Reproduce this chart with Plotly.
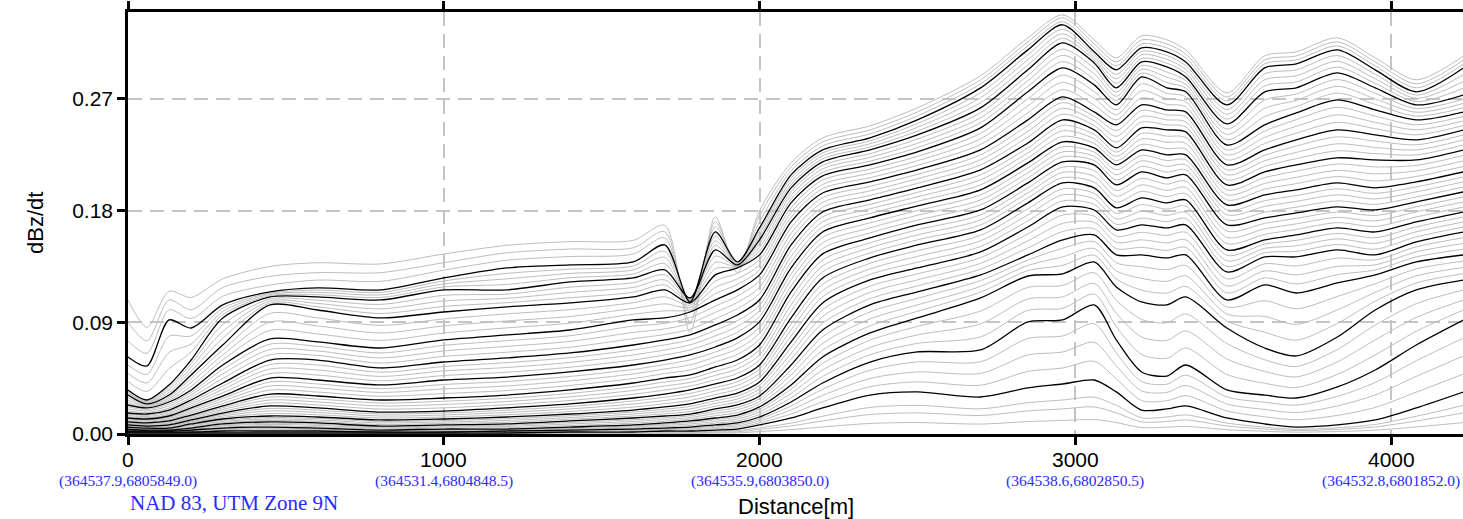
import plotly.graph_objects as go

# Station distances along the line (m)
distance = [0, 60, 130, 200, 300, 450, 600, 800, 1000, 1200, 1400, 1600, 1700, 1780,
            1860, 1930, 2000, 2100, 2200, 2350, 2500, 2700, 2850, 2960, 3060, 3130,
            3210, 3290, 3350, 3480, 3600, 3700, 3830, 3950, 4080, 4230]

# dBz/dt decay at each station, 55 channels from early to late time
decay_0000 = [0.1080, 0.0900, 0.0750, 0.0621, 0.0555, 0.0488, 0.0422, 0.0355, 0.0345, 0.0335, 0.0324, 0.0314, 0.0294, 0.0274, 0.0254, 0.0234, 0.0218, 0.0202, 0.0185, 0.0169, 0.0159, 0.0149, 0.0139, 0.0129, 0.0121, 0.0113, 0.0105, 0.0097, 0.0091, 0.0085, 0.0079, 0.0073, 0.0069, 0.0065, 0.0060, 0.0056, 0.0052, 0.0048, 0.0044, 0.0040, 0.0036, 0.0032, 0.0028, 0.0024, 0.0022, 0.0020, 0.0018, 0.0016, 0.0014, 0.0012, 0.0010, 0.0008, 0.0006, 0.0004, 0.0002]
decay_0060 = [0.0860, 0.0750, 0.0650, 0.0548, 0.0480, 0.0411, 0.0343, 0.0274, 0.0266, 0.0258, 0.0250, 0.0242, 0.0234, 0.0226, 0.0218, 0.0210, 0.0198, 0.0186, 0.0173, 0.0161, 0.0151, 0.0141, 0.0131, 0.0121, 0.0113, 0.0105, 0.0097, 0.0089, 0.0083, 0.0077, 0.0070, 0.0064, 0.0060, 0.0056, 0.0052, 0.0048, 0.0044, 0.0040, 0.0036, 0.0032, 0.0030, 0.0028, 0.0026, 0.0024, 0.0022, 0.0020, 0.0018, 0.0016, 0.0014, 0.0012, 0.0010, 0.0008, 0.0006, 0.0004, 0.0002]
decay_0130 = [0.1150, 0.1080, 0.1000, 0.0919, 0.0788, 0.0657, 0.0526, 0.0395, 0.0375, 0.0355, 0.0334, 0.0314, 0.0300, 0.0286, 0.0272, 0.0258, 0.0242, 0.0226, 0.0209, 0.0193, 0.0181, 0.0169, 0.0157, 0.0145, 0.0135, 0.0125, 0.0115, 0.0105, 0.0097, 0.0089, 0.0081, 0.0073, 0.0067, 0.0061, 0.0054, 0.0048, 0.0044, 0.0040, 0.0036, 0.0032, 0.0030, 0.0028, 0.0026, 0.0024, 0.0022, 0.0020, 0.0018, 0.0016, 0.0014, 0.0012, 0.0010, 0.0008, 0.0006, 0.0004, 0.0002]
decay_0200 = [0.1100, 0.1000, 0.0930, 0.0854, 0.0790, 0.0725, 0.0661, 0.0596, 0.0566, 0.0536, 0.0506, 0.0476, 0.0446, 0.0416, 0.0385, 0.0355, 0.0335, 0.0315, 0.0294, 0.0274, 0.0258, 0.0242, 0.0226, 0.0210, 0.0196, 0.0182, 0.0167, 0.0153, 0.0143, 0.0133, 0.0123, 0.0113, 0.0105, 0.0097, 0.0089, 0.0081, 0.0073, 0.0065, 0.0056, 0.0048, 0.0044, 0.0040, 0.0036, 0.0032, 0.0028, 0.0024, 0.0020, 0.0016, 0.0014, 0.0012, 0.0010, 0.0008, 0.0006, 0.0004, 0.0002]
decay_0300 = [0.1250, 0.1180, 0.1110, 0.1040, 0.1014, 0.0988, 0.0961, 0.0935, 0.0881, 0.0826, 0.0772, 0.0717, 0.0677, 0.0637, 0.0596, 0.0556, 0.0520, 0.0484, 0.0447, 0.0411, 0.0385, 0.0359, 0.0332, 0.0306, 0.0286, 0.0266, 0.0246, 0.0226, 0.0212, 0.0198, 0.0183, 0.0169, 0.0157, 0.0145, 0.0133, 0.0121, 0.0111, 0.0101, 0.0091, 0.0081, 0.0073, 0.0065, 0.0056, 0.0048, 0.0042, 0.0036, 0.0030, 0.0024, 0.0020, 0.0016, 0.0012, 0.0008, 0.0006, 0.0004, 0.0002]
decay_0450 = [0.1350, 0.1270, 0.1200, 0.1145, 0.1135, 0.1125, 0.1114, 0.1104, 0.1088, 0.1072, 0.1056, 0.1040, 0.0972, 0.0903, 0.0835, 0.0766, 0.0724, 0.0681, 0.0639, 0.0596, 0.0560, 0.0524, 0.0487, 0.0451, 0.0419, 0.0387, 0.0354, 0.0322, 0.0298, 0.0274, 0.0250, 0.0226, 0.0206, 0.0186, 0.0165, 0.0145, 0.0133, 0.0121, 0.0109, 0.0097, 0.0087, 0.0077, 0.0066, 0.0056, 0.0048, 0.0040, 0.0032, 0.0024, 0.0020, 0.0016, 0.0012, 0.0008, 0.0006, 0.0004, 0.0002]
decay_0600 = [0.1380, 0.1300, 0.1240, 0.1177, 0.1159, 0.1141, 0.1122, 0.1104, 0.1078, 0.1052, 0.1025, 0.0999, 0.0935, 0.0871, 0.0806, 0.0742, 0.0706, 0.0669, 0.0633, 0.0596, 0.0556, 0.0516, 0.0475, 0.0435, 0.0403, 0.0371, 0.0338, 0.0306, 0.0282, 0.0258, 0.0234, 0.0210, 0.0192, 0.0174, 0.0155, 0.0137, 0.0125, 0.0113, 0.0101, 0.0089, 0.0079, 0.0069, 0.0058, 0.0048, 0.0042, 0.0036, 0.0030, 0.0024, 0.0020, 0.0016, 0.0012, 0.0008, 0.0006, 0.0004, 0.0002]
decay_0800 = [0.1370, 0.1300, 0.1230, 0.1161, 0.1141, 0.1121, 0.1100, 0.1080, 0.1044, 0.1008, 0.0971, 0.0935, 0.0875, 0.0814, 0.0754, 0.0693, 0.0653, 0.0613, 0.0572, 0.0532, 0.0498, 0.0464, 0.0429, 0.0395, 0.0365, 0.0335, 0.0304, 0.0274, 0.0250, 0.0226, 0.0201, 0.0177, 0.0161, 0.0145, 0.0129, 0.0113, 0.0101, 0.0089, 0.0076, 0.0064, 0.0056, 0.0048, 0.0040, 0.0032, 0.0028, 0.0024, 0.0020, 0.0016, 0.0014, 0.0012, 0.0010, 0.0008, 0.0006, 0.0004, 0.0002]
decay_1000 = [0.1450, 0.1380, 0.1320, 0.1257, 0.1233, 0.1209, 0.1185, 0.1161, 0.1117, 0.1072, 0.1028, 0.0983, 0.0927, 0.0871, 0.0814, 0.0758, 0.0714, 0.0669, 0.0625, 0.0580, 0.0544, 0.0508, 0.0471, 0.0435, 0.0399, 0.0363, 0.0326, 0.0290, 0.0264, 0.0238, 0.0211, 0.0185, 0.0169, 0.0153, 0.0137, 0.0121, 0.0109, 0.0097, 0.0085, 0.0073, 0.0065, 0.0057, 0.0048, 0.0040, 0.0034, 0.0028, 0.0022, 0.0016, 0.0014, 0.0012, 0.0010, 0.0008, 0.0006, 0.0004, 0.0002]
decay_1200 = [0.1520, 0.1460, 0.1400, 0.1338, 0.1294, 0.1250, 0.1205, 0.1161, 0.1127, 0.1093, 0.1058, 0.1024, 0.0968, 0.0911, 0.0855, 0.0798, 0.0752, 0.0706, 0.0659, 0.0613, 0.0575, 0.0536, 0.0498, 0.0459, 0.0423, 0.0387, 0.0350, 0.0314, 0.0288, 0.0262, 0.0236, 0.0210, 0.0192, 0.0174, 0.0155, 0.0137, 0.0123, 0.0109, 0.0095, 0.0081, 0.0071, 0.0061, 0.0050, 0.0040, 0.0036, 0.0032, 0.0028, 0.0024, 0.0020, 0.0016, 0.0012, 0.0008, 0.0006, 0.0004, 0.0002]
decay_1400 = [0.1550, 0.1490, 0.1430, 0.1362, 0.1328, 0.1294, 0.1259, 0.1225, 0.1183, 0.1141, 0.1098, 0.1056, 0.1002, 0.0947, 0.0893, 0.0838, 0.0792, 0.0746, 0.0699, 0.0653, 0.0615, 0.0577, 0.0538, 0.0500, 0.0464, 0.0428, 0.0391, 0.0355, 0.0327, 0.0299, 0.0270, 0.0242, 0.0222, 0.0202, 0.0181, 0.0161, 0.0147, 0.0133, 0.0119, 0.0105, 0.0093, 0.0081, 0.0068, 0.0056, 0.0050, 0.0044, 0.0038, 0.0032, 0.0028, 0.0024, 0.0020, 0.0016, 0.0011, 0.0007, 0.0003]
decay_1600 = [0.1560, 0.1500, 0.1450, 0.1386, 0.1354, 0.1322, 0.1289, 0.1257, 0.1219, 0.1181, 0.1142, 0.1104, 0.1058, 0.1012, 0.0965, 0.0919, 0.0869, 0.0818, 0.0768, 0.0717, 0.0677, 0.0637, 0.0596, 0.0556, 0.0520, 0.0484, 0.0447, 0.0411, 0.0381, 0.0351, 0.0320, 0.0290, 0.0266, 0.0242, 0.0217, 0.0193, 0.0177, 0.0161, 0.0145, 0.0129, 0.0115, 0.0101, 0.0087, 0.0073, 0.0065, 0.0057, 0.0048, 0.0040, 0.0034, 0.0028, 0.0022, 0.0016, 0.0011, 0.0007, 0.0003]
decay_1700 = [0.1680, 0.1630, 0.1580, 0.1523, 0.1473, 0.1423, 0.1372, 0.1322, 0.1282, 0.1242, 0.1201, 0.1161, 0.1105, 0.1048, 0.0992, 0.0935, 0.0891, 0.0847, 0.0802, 0.0758, 0.0718, 0.0677, 0.0637, 0.0596, 0.0560, 0.0524, 0.0487, 0.0451, 0.0419, 0.0387, 0.0354, 0.0322, 0.0296, 0.0270, 0.0244, 0.0218, 0.0200, 0.0182, 0.0163, 0.0145, 0.0131, 0.0117, 0.0103, 0.0089, 0.0079, 0.0069, 0.0058, 0.0048, 0.0042, 0.0036, 0.0030, 0.0024, 0.0016, 0.0010, 0.0005]
decay_1780 = [0.0820, 0.0900, 0.0980, 0.1064, 0.1072, 0.1080, 0.1088, 0.1096, 0.1086, 0.1076, 0.1066, 0.1056, 0.1038, 0.1020, 0.1001, 0.0983, 0.0937, 0.0891, 0.0844, 0.0798, 0.0758, 0.0718, 0.0677, 0.0637, 0.0597, 0.0557, 0.0516, 0.0476, 0.0446, 0.0416, 0.0385, 0.0355, 0.0327, 0.0299, 0.0270, 0.0242, 0.0222, 0.0202, 0.0181, 0.0161, 0.0147, 0.0133, 0.0119, 0.0105, 0.0093, 0.0081, 0.0068, 0.0056, 0.0048, 0.0040, 0.0032, 0.0024, 0.0016, 0.0010, 0.0005]
decay_1860 = [0.1750, 0.1710, 0.1670, 0.1628, 0.1592, 0.1556, 0.1519, 0.1483, 0.1433, 0.1383, 0.1332, 0.1282, 0.1232, 0.1181, 0.1131, 0.1080, 0.1030, 0.0980, 0.0929, 0.0879, 0.0835, 0.0790, 0.0746, 0.0701, 0.0661, 0.0621, 0.0580, 0.0540, 0.0506, 0.0472, 0.0437, 0.0403, 0.0375, 0.0347, 0.0318, 0.0290, 0.0268, 0.0246, 0.0224, 0.0202, 0.0184, 0.0166, 0.0147, 0.0129, 0.0115, 0.0101, 0.0087, 0.0073, 0.0063, 0.0053, 0.0042, 0.0032, 0.0022, 0.0014, 0.0007]
decay_1930 = [0.1300, 0.1340, 0.1370, 0.1386, 0.1380, 0.1374, 0.1368, 0.1362, 0.1356, 0.1350, 0.1344, 0.1338, 0.1294, 0.1250, 0.1205, 0.1161, 0.1111, 0.1060, 0.1010, 0.0959, 0.0913, 0.0867, 0.0820, 0.0774, 0.0730, 0.0685, 0.0641, 0.0596, 0.0560, 0.0524, 0.0487, 0.0451, 0.0421, 0.0391, 0.0360, 0.0330, 0.0306, 0.0282, 0.0258, 0.0234, 0.0214, 0.0194, 0.0173, 0.0153, 0.0137, 0.0121, 0.0105, 0.0089, 0.0077, 0.0065, 0.0052, 0.0040, 0.0027, 0.0018, 0.0009]
decay_2000 = [0.1800, 0.1760, 0.1710, 0.1660, 0.1636, 0.1612, 0.1588, 0.1564, 0.1534, 0.1504, 0.1473, 0.1443, 0.1403, 0.1363, 0.1322, 0.1282, 0.1232, 0.1181, 0.1131, 0.1080, 0.1036, 0.0992, 0.0947, 0.0903, 0.0857, 0.0810, 0.0764, 0.0717, 0.0677, 0.0637, 0.0596, 0.0556, 0.0522, 0.0488, 0.0453, 0.0419, 0.0391, 0.0363, 0.0334, 0.0306, 0.0284, 0.0262, 0.0240, 0.0218, 0.0198, 0.0178, 0.0157, 0.0137, 0.0121, 0.0105, 0.0089, 0.0073, 0.0050, 0.0037, 0.0020]
decay_2100 = [0.2185, 0.2152, 0.2120, 0.2088, 0.2062, 0.2036, 0.2009, 0.1983, 0.1953, 0.1923, 0.1892, 0.1862, 0.1824, 0.1786, 0.1747, 0.1709, 0.1663, 0.1616, 0.1570, 0.1523, 0.1477, 0.1431, 0.1384, 0.1338, 0.1290, 0.1242, 0.1193, 0.1145, 0.1093, 0.1040, 0.0988, 0.0935, 0.0887, 0.0839, 0.0790, 0.0742, 0.0696, 0.0649, 0.0603, 0.0556, 0.0516, 0.0476, 0.0435, 0.0395, 0.0361, 0.0327, 0.0292, 0.0258, 0.0226, 0.0194, 0.0161, 0.0129, 0.0088, 0.0065, 0.0035]
decay_2200 = [0.2386, 0.2353, 0.2321, 0.2289, 0.2265, 0.2241, 0.2216, 0.2192, 0.2164, 0.2136, 0.2108, 0.2080, 0.2046, 0.2011, 0.1977, 0.1942, 0.1904, 0.1866, 0.1827, 0.1789, 0.1749, 0.1709, 0.1668, 0.1628, 0.1584, 0.1540, 0.1495, 0.1451, 0.1403, 0.1354, 0.1306, 0.1257, 0.1207, 0.1157, 0.1106, 0.1056, 0.1002, 0.0947, 0.0893, 0.0838, 0.0784, 0.0730, 0.0675, 0.0621, 0.0569, 0.0516, 0.0464, 0.0411, 0.0361, 0.0311, 0.0260, 0.0210, 0.0143, 0.0105, 0.0057]
decay_2350 = [0.2483, 0.2450, 0.2418, 0.2386, 0.2362, 0.2338, 0.2313, 0.2289, 0.2259, 0.2229, 0.2198, 0.2168, 0.2134, 0.2100, 0.2065, 0.2031, 0.1995, 0.1959, 0.1922, 0.1886, 0.1850, 0.1814, 0.1777, 0.1741, 0.1701, 0.1661, 0.1620, 0.1580, 0.1540, 0.1500, 0.1459, 0.1419, 0.1375, 0.1330, 0.1286, 0.1241, 0.1191, 0.1141, 0.1090, 0.1040, 0.0984, 0.0927, 0.0871, 0.0814, 0.0756, 0.0697, 0.0639, 0.0580, 0.0514, 0.0447, 0.0381, 0.0314, 0.0214, 0.0157, 0.0085]
decay_2500 = [0.2628, 0.2595, 0.2563, 0.2531, 0.2501, 0.2471, 0.2440, 0.2410, 0.2376, 0.2342, 0.2307, 0.2273, 0.2237, 0.2201, 0.2164, 0.2128, 0.2092, 0.2056, 0.2019, 0.1983, 0.1947, 0.1911, 0.1874, 0.1838, 0.1800, 0.1762, 0.1723, 0.1685, 0.1645, 0.1604, 0.1564, 0.1523, 0.1477, 0.1431, 0.1384, 0.1338, 0.1290, 0.1242, 0.1193, 0.1145, 0.1093, 0.1040, 0.0988, 0.0935, 0.0867, 0.0798, 0.0730, 0.0661, 0.0581, 0.0500, 0.0420, 0.0339, 0.0231, 0.0170, 0.0092]
decay_2700 = [0.2886, 0.2853, 0.2821, 0.2789, 0.2749, 0.2709, 0.2668, 0.2628, 0.2588, 0.2547, 0.2507, 0.2466, 0.2422, 0.2378, 0.2333, 0.2289, 0.2249, 0.2209, 0.2168, 0.2128, 0.2088, 0.2048, 0.2007, 0.1967, 0.1927, 0.1886, 0.1846, 0.1805, 0.1765, 0.1725, 0.1684, 0.1644, 0.1600, 0.1556, 0.1511, 0.1467, 0.1421, 0.1375, 0.1328, 0.1282, 0.1236, 0.1189, 0.1143, 0.1096, 0.0991, 0.0887, 0.0782, 0.0677, 0.0582, 0.0488, 0.0393, 0.0298, 0.0203, 0.0149, 0.0080]
decay_2850 = [0.3192, 0.3159, 0.3127, 0.3095, 0.3055, 0.3015, 0.2974, 0.2934, 0.2890, 0.2846, 0.2801, 0.2757, 0.2701, 0.2644, 0.2588, 0.2531, 0.2485, 0.2438, 0.2392, 0.2345, 0.2305, 0.2265, 0.2224, 0.2184, 0.2144, 0.2104, 0.2063, 0.2023, 0.1983, 0.1943, 0.1902, 0.1862, 0.1814, 0.1765, 0.1717, 0.1668, 0.1612, 0.1556, 0.1499, 0.1443, 0.1401, 0.1358, 0.1316, 0.1273, 0.1181, 0.1088, 0.0996, 0.0903, 0.0770, 0.0637, 0.0504, 0.0371, 0.0252, 0.0186, 0.0100]
decay_2960 = [0.3377, 0.3353, 0.3321, 0.3297, 0.3261, 0.3224, 0.3188, 0.3151, 0.3101, 0.3051, 0.3000, 0.2950, 0.2892, 0.2833, 0.2775, 0.2716, 0.2670, 0.2624, 0.2577, 0.2531, 0.2487, 0.2443, 0.2398, 0.2354, 0.2314, 0.2273, 0.2233, 0.2192, 0.2150, 0.2108, 0.2065, 0.2023, 0.1975, 0.1927, 0.1878, 0.1830, 0.1764, 0.1697, 0.1631, 0.1564, 0.1496, 0.1427, 0.1359, 0.1290, 0.1197, 0.1105, 0.1012, 0.0919, 0.0790, 0.0661, 0.0532, 0.0403, 0.0274, 0.0202, 0.0109]
decay_3060 = [0.3176, 0.3143, 0.3111, 0.3079, 0.3057, 0.3035, 0.3012, 0.2990, 0.2946, 0.2902, 0.2857, 0.2813, 0.2759, 0.2704, 0.2650, 0.2595, 0.2559, 0.2523, 0.2486, 0.2450, 0.2414, 0.2378, 0.2341, 0.2305, 0.2271, 0.2237, 0.2202, 0.2168, 0.2122, 0.2076, 0.2029, 0.1983, 0.1939, 0.1894, 0.1850, 0.1805, 0.1755, 0.1705, 0.1654, 0.1604, 0.1550, 0.1495, 0.1441, 0.1386, 0.1300, 0.1213, 0.1127, 0.1040, 0.0889, 0.0738, 0.0586, 0.0435, 0.0296, 0.0218, 0.0117]
decay_3130 = [0.3031, 0.2998, 0.2966, 0.2934, 0.2898, 0.2862, 0.2825, 0.2789, 0.2755, 0.2721, 0.2686, 0.2652, 0.2612, 0.2572, 0.2531, 0.2491, 0.2445, 0.2398, 0.2352, 0.2305, 0.2271, 0.2237, 0.2202, 0.2168, 0.2128, 0.2088, 0.2047, 0.2007, 0.1961, 0.1915, 0.1868, 0.1822, 0.1778, 0.1733, 0.1689, 0.1644, 0.1594, 0.1544, 0.1493, 0.1443, 0.1379, 0.1314, 0.1250, 0.1185, 0.1078, 0.0972, 0.0865, 0.0758, 0.0653, 0.0549, 0.0444, 0.0339, 0.0231, 0.0170, 0.0092]
decay_3210 = [0.3208, 0.3175, 0.3143, 0.3111, 0.3083, 0.3055, 0.3026, 0.2998, 0.2968, 0.2938, 0.2907, 0.2877, 0.2821, 0.2765, 0.2708, 0.2652, 0.2606, 0.2559, 0.2513, 0.2466, 0.2422, 0.2378, 0.2333, 0.2289, 0.2245, 0.2201, 0.2156, 0.2112, 0.2060, 0.2007, 0.1955, 0.1902, 0.1848, 0.1794, 0.1739, 0.1685, 0.1625, 0.1564, 0.1504, 0.1443, 0.1348, 0.1254, 0.1159, 0.1064, 0.0923, 0.0782, 0.0641, 0.0500, 0.0423, 0.0347, 0.0270, 0.0193, 0.0131, 0.0097, 0.0052]
decay_3290 = [0.3176, 0.3143, 0.3111, 0.3079, 0.3049, 0.3019, 0.2988, 0.2958, 0.2916, 0.2874, 0.2831, 0.2789, 0.2745, 0.2700, 0.2656, 0.2611, 0.2571, 0.2531, 0.2490, 0.2450, 0.2400, 0.2350, 0.2299, 0.2249, 0.2203, 0.2156, 0.2110, 0.2063, 0.2013, 0.1963, 0.1912, 0.1862, 0.1812, 0.1761, 0.1711, 0.1660, 0.1600, 0.1540, 0.1479, 0.1419, 0.1324, 0.1230, 0.1135, 0.1040, 0.0897, 0.0754, 0.0610, 0.0467, 0.0401, 0.0335, 0.0268, 0.0202, 0.0137, 0.0101, 0.0055]
decay_3350 = [0.3095, 0.3062, 0.3030, 0.2998, 0.2968, 0.2938, 0.2907, 0.2877, 0.2847, 0.2817, 0.2787, 0.2757, 0.2717, 0.2676, 0.2636, 0.2595, 0.2555, 0.2515, 0.2474, 0.2434, 0.2388, 0.2342, 0.2295, 0.2249, 0.2209, 0.2169, 0.2128, 0.2088, 0.2038, 0.1987, 0.1937, 0.1886, 0.1836, 0.1786, 0.1735, 0.1685, 0.1625, 0.1564, 0.1504, 0.1443, 0.1358, 0.1274, 0.1189, 0.1104, 0.0967, 0.0830, 0.0693, 0.0556, 0.0474, 0.0391, 0.0309, 0.0226, 0.0154, 0.0113, 0.0061]
decay_3480 = [0.2749, 0.2716, 0.2684, 0.2652, 0.2614, 0.2576, 0.2537, 0.2499, 0.2457, 0.2414, 0.2372, 0.2329, 0.2289, 0.2249, 0.2208, 0.2168, 0.2128, 0.2088, 0.2047, 0.2007, 0.1967, 0.1927, 0.1886, 0.1846, 0.1806, 0.1766, 0.1725, 0.1685, 0.1635, 0.1584, 0.1534, 0.1483, 0.1439, 0.1395, 0.1350, 0.1306, 0.1250, 0.1193, 0.1137, 0.1080, 0.1024, 0.0967, 0.0911, 0.0854, 0.0729, 0.0605, 0.0480, 0.0355, 0.0299, 0.0242, 0.0186, 0.0129, 0.0088, 0.0065, 0.0035]
decay_3600 = [0.3047, 0.3014, 0.2982, 0.2950, 0.2902, 0.2854, 0.2805, 0.2757, 0.2691, 0.2624, 0.2558, 0.2491, 0.2441, 0.2390, 0.2340, 0.2289, 0.2245, 0.2201, 0.2156, 0.2112, 0.2066, 0.2019, 0.1973, 0.1926, 0.1880, 0.1834, 0.1787, 0.1741, 0.1697, 0.1653, 0.1608, 0.1564, 0.1530, 0.1496, 0.1461, 0.1427, 0.1371, 0.1314, 0.1258, 0.1201, 0.1074, 0.0947, 0.0820, 0.0693, 0.0598, 0.0504, 0.0409, 0.0314, 0.0256, 0.0198, 0.0139, 0.0081, 0.0055, 0.0040, 0.0022]
decay_3700 = [0.3079, 0.3046, 0.3014, 0.2982, 0.2934, 0.2886, 0.2837, 0.2789, 0.2739, 0.2688, 0.2638, 0.2587, 0.2533, 0.2479, 0.2424, 0.2370, 0.2320, 0.2269, 0.2219, 0.2168, 0.2118, 0.2068, 0.2017, 0.1967, 0.1921, 0.1874, 0.1828, 0.1781, 0.1737, 0.1693, 0.1648, 0.1604, 0.1560, 0.1516, 0.1471, 0.1427, 0.1354, 0.1282, 0.1209, 0.1136, 0.1009, 0.0883, 0.0756, 0.0629, 0.0544, 0.0460, 0.0375, 0.0290, 0.0232, 0.0173, 0.0115, 0.0056, 0.0038, 0.0028, 0.0015]
decay_3830 = [0.3192, 0.3159, 0.3127, 0.3095, 0.3049, 0.3003, 0.2956, 0.2910, 0.2856, 0.2801, 0.2747, 0.2692, 0.2632, 0.2571, 0.2511, 0.2450, 0.2394, 0.2338, 0.2281, 0.2225, 0.2175, 0.2124, 0.2074, 0.2023, 0.1975, 0.1927, 0.1878, 0.1830, 0.1788, 0.1745, 0.1703, 0.1660, 0.1616, 0.1572, 0.1527, 0.1483, 0.1417, 0.1350, 0.1284, 0.1217, 0.1108, 0.1000, 0.0891, 0.0782, 0.0681, 0.0581, 0.0480, 0.0379, 0.0303, 0.0226, 0.0150, 0.0073, 0.0050, 0.0037, 0.0020]
decay_3950 = [0.3031, 0.2998, 0.2966, 0.2934, 0.2898, 0.2862, 0.2825, 0.2789, 0.2745, 0.2700, 0.2656, 0.2611, 0.2561, 0.2511, 0.2460, 0.2410, 0.2360, 0.2309, 0.2259, 0.2208, 0.2152, 0.2096, 0.2039, 0.1983, 0.1939, 0.1894, 0.1850, 0.1805, 0.1761, 0.1717, 0.1672, 0.1628, 0.1582, 0.1536, 0.1489, 0.1443, 0.1403, 0.1363, 0.1322, 0.1282, 0.1211, 0.1141, 0.1070, 0.0999, 0.0878, 0.0758, 0.0637, 0.0516, 0.0415, 0.0315, 0.0214, 0.0113, 0.0077, 0.0057, 0.0031]
decay_4080 = [0.2854, 0.2821, 0.2789, 0.2757, 0.2731, 0.2705, 0.2678, 0.2652, 0.2622, 0.2592, 0.2561, 0.2531, 0.2491, 0.2451, 0.2410, 0.2370, 0.2330, 0.2289, 0.2249, 0.2208, 0.2164, 0.2120, 0.2075, 0.2031, 0.1991, 0.1951, 0.1910, 0.1870, 0.1830, 0.1790, 0.1749, 0.1709, 0.1669, 0.1629, 0.1588, 0.1548, 0.1508, 0.1467, 0.1427, 0.1386, 0.1330, 0.1274, 0.1217, 0.1161, 0.1050, 0.0939, 0.0828, 0.0717, 0.0590, 0.0464, 0.0337, 0.0210, 0.0143, 0.0105, 0.0057]
decay_4230 = [0.3047, 0.3014, 0.2982, 0.2950, 0.2896, 0.2841, 0.2787, 0.2732, 0.2698, 0.2664, 0.2629, 0.2595, 0.2559, 0.2523, 0.2486, 0.2450, 0.2410, 0.2370, 0.2329, 0.2289, 0.2245, 0.2201, 0.2156, 0.2112, 0.2072, 0.2032, 0.1991, 0.1951, 0.1910, 0.1870, 0.1829, 0.1789, 0.1749, 0.1709, 0.1668, 0.1628, 0.1582, 0.1536, 0.1489, 0.1443, 0.1393, 0.1342, 0.1292, 0.1241, 0.1161, 0.1080, 0.1000, 0.0919, 0.0774, 0.0629, 0.0484, 0.0339, 0.0231, 0.0170, 0.0092]

x_ticks = [0, 1000, 2000, 3000, 4000]
x_tick_labels = ["0", "1000", "2000", "3000", "4000"]
utm_labels = ["(364537.9,6805849.0)", "(364531.4,6804848.5)", "(364535.9,6803850.0)",
              "(364538.6,6802850.5)", "(364532.8,6801852.0)"]
y_ticks = [0.0, 0.09, 0.18, 0.27]
y_tick_labels = ["0.00", "0.09", "0.18", "0.27"]

stations = [decay_0000, decay_0060, decay_0130, decay_0200, decay_0300, decay_0450, decay_0600,
            decay_0800, decay_1000, decay_1200, decay_1400, decay_1600, decay_1700, decay_1780,
            decay_1860, decay_1930, decay_2000, decay_2100, decay_2200, decay_2350, decay_2500,
            decay_2700, decay_2850, decay_2960, decay_3060, decay_3130, decay_3210, decay_3290,
            decay_3350, decay_3480, decay_3600, decay_3700, decay_3830, decay_3950, decay_4080,
            decay_4230]
channels = [list(ch) for ch in zip(*stations)]

fig = go.Figure()
# every fourth channel is drawn in black, the rest in light grey
highlighted = [k for k in range(len(channels)) if k % 4 == 3]
for k, ch in enumerate(channels):
    if k in highlighted:
        continue
    fig.add_trace(go.Scatter(
        x=distance, y=ch, mode="lines",
        line=dict(color="#bdbdbd", width=1.0, shape="spline", smoothing=0.8),
        hoverinfo="skip", showlegend=False))
for k in highlighted:
    fig.add_trace(go.Scatter(
        x=distance, y=channels[k], mode="lines",
        line=dict(color="#000000", width=1.3, shape="spline", smoothing=0.8),
        hoverinfo="skip", showlegend=False))

grid = dict(showgrid=True, gridcolor="#c4c4c4", gridwidth=2, griddash="14px,8px")
fig.update_xaxes(
    range=[0, 4228], tickvals=x_ticks, showticklabels=False,
    showline=True, linecolor="black", linewidth=2.5, mirror="ticks",
    ticks="outside", ticklen=8, tickwidth=2.5, tickcolor="black",
    zeroline=False, **grid)
fig.update_yaxes(
    range=[0, 0.340], tickvals=y_ticks, ticktext=y_tick_labels,
    showline=True, linecolor="black", linewidth=2.5, mirror=False,
    ticks="outside", ticklen=8, tickwidth=2.5, tickcolor="black",
    tickfont=dict(family="Liberation Sans", size=21, color="black"),
    zeroline=False, **grid)

annotations = []
for xv, lab, utm in zip(x_ticks, x_tick_labels, utm_labels):
    annotations.append(dict(
        x=xv, y=0, xref="x", yref="paper", text=lab, showarrow=False,
        xanchor="center", yanchor="middle", yshift=-25,
        font=dict(family="Liberation Sans", size=21, color="black")))
    annotations.append(dict(
        x=xv, y=0, xref="x", yref="paper", text=utm, showarrow=False,
        xanchor="center", yanchor="middle", yshift=-47,
        font=dict(family="Liberation Serif", size=15.5, color="#2a2aff")))
annotations.append(dict(
    x=0, y=0, xref="paper", yref="paper", text="NAD 83, UTM Zone 9N", showarrow=False,
    xanchor="left", yanchor="middle", yshift=-69,
    font=dict(family="Liberation Serif", size=21, color="#2a2aff")))
annotations.append(dict(
    x=0.5, y=0, xref="paper", yref="paper", text="Distance[m]", showarrow=False,
    xanchor="center", yanchor="middle", yshift=-72,
    font=dict(family="Liberation Sans", size=22, color="black")))
annotations.append(dict(
    x=0, y=0.5, xref="paper", yref="paper", text="dBz/dt", showarrow=False,
    xanchor="center", yanchor="middle", xshift=-93, textangle=-90,
    font=dict(family="Liberation Sans", size=22, color="black")))

fig.update_layout(
    width=1463, height=519,
    margin=dict(l=128, r=0, t=12, b=85),
    paper_bgcolor="white", plot_bgcolor="white",
    annotations=annotations)

fig.write_html("out.html")
